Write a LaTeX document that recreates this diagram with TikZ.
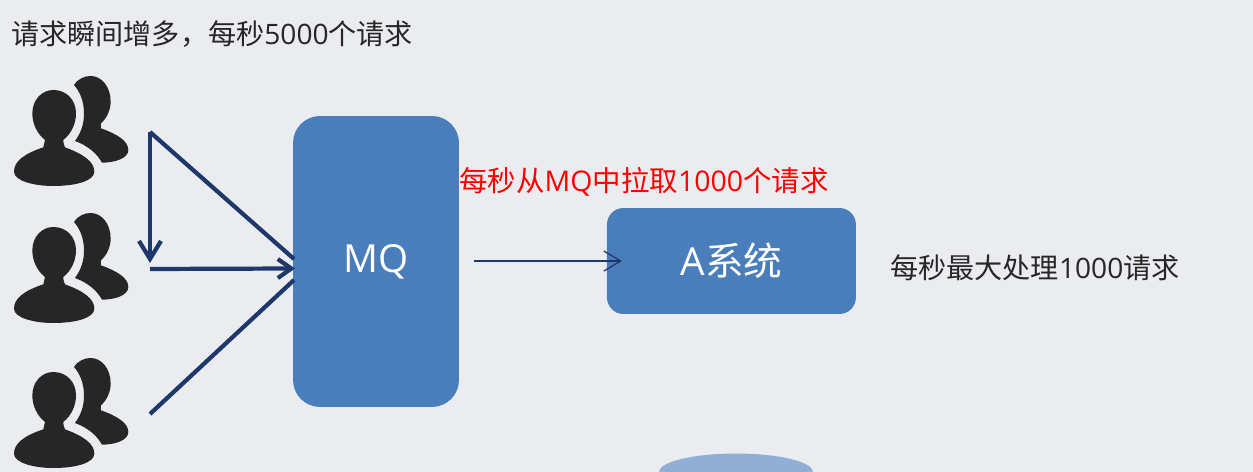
\documentclass[tikz,border=0pt]{standalone}
\usepackage{fontspec}
\setmainfont{Open Sans}
\newfontfamily\cjk{Noto Sans CJK SC}
\usetikzlibrary{arrows.meta}
\definecolor{cback}{RGB}{234,236,240}
\definecolor{cblue}{RGB}{74,126,187}
\definecolor{clight}{RGB}{145,175,213}
\definecolor{cline}{RGB}{31,56,107}
\definecolor{cicon}{RGB}{38,38,38}

\begin{document}
\begin{tikzpicture}[x=0.02cm,y=-0.02cm,>=Straight Barb,node distance=7.11cm,
  main node/.style={fill=cblue,text=white,font=\fontsize{22}{26}\selectfont,inner sep=0pt},
  note node/.style={anchor=west,inner sep=0pt,text=black!85,font=\fontsize{16}{20}\selectfont},
  thick line/.style={draw=cline,line width=2.4pt},
  thin line/.style={draw=cline,line width=0.7pt},
  pics/person/.style={code={
    \fill[cicon] (130,262) .. controls (70,282) and (42,305) .. (42,335)
      .. controls (42,362) and (100,378) .. (160,378)
      .. controls (230,378) and (283,362) .. (283,335)
      .. controls (283,305) and (250,282) .. (195,262)
      .. controls (190,250) and (190,245) .. (190,240)
      .. controls (215,220) and (228,190) .. (228,160)
      .. controls (228,120) and (200,90) .. (160,90)
      .. controls (125,90) and (97,120) .. (97,160)
      .. controls (97,190) and (110,220) .. (135,240) -- cycle;
    \fill[cicon] (222,75) .. controls (235,55) and (255,48) .. (272,48)
      .. controls (305,48) and (332,80) .. (332,125)
      .. controls (332,150) and (320,175) .. (303,190) -- (303,205)
      .. controls (350,222) and (385,242) .. (385,270)
      .. controls (385,295) and (345,308) .. (306,308)
      .. controls (290,280) and (265,258) .. (225,243)
      .. controls (245,215) and (252,190) .. (252,160)
      .. controls (252,125) and (240,95) .. (222,75) -- cycle;
  }}]
  \fill[cback] (0,0) rectangle (1253,472);
  \useasboundingbox (0,0) rectangle (1253,472);

  \node[note node] (title) at (11,34) {{\cjk 请求瞬间增多，每秒}5000{\cjk 个请求}};

  \coordinate (user1) at (0,60);
  \coordinate (user2) at (0,197);
  \coordinate (user3) at (0,342);
  \pic[x=0.00667cm,y=-0.00667cm] at (user1) {person};
  \pic[x=0.00667cm,y=-0.00667cm] at (user2) {person};
  \pic[x=0.00667cm,y=-0.00667cm] at (user3) {person};

  % cylinder top, cut by the page
  \fill[clight] (659,472) .. controls (659,461.8) and (693.5,453.5) .. (736,453.5)
    .. controls (778.5,453.5) and (813,461.8) .. (813,472) -- cycle;

  \node[main node,minimum width=3.32cm,minimum height=5.82cm,rounded corners=0.54cm] (mq) at (376,261.5) {\raisebox{-0.08cm}{MQ}};
  \node[main node,minimum width=4.98cm,minimum height=2.12cm,rounded corners=0.33cm,yshift=0.01cm] (sys) [right of=mq] {\raisebox{-0.02cm}{A{\cjk 系统}}};
  \node[note node,text=red,font=\fontsize{16.2}{20}\selectfont] (pull) at (459,182) {{\cjk 每秒从}MQ{\cjk 中拉取}1000{\cjk 个请求}};
  \node[note node] (limit) at (890,268) {{\cjk 每秒最大处理}1000{\cjk 请求}};

  \coordinate (top) at (150,132);
  \coordinate (mid) at (150,269);
  \coordinate (low) at (150,414);
  \coordinate (down) at (150,263);
  \coordinate (hit1) at (294,259);
  \coordinate (hit2) at (295,268.5);
  \coordinate (hit3) at (294,280);
  \coordinate (from) at (474,261);
  \coordinate (to) at (622,261);

  \path[thick line]
    (top) edge[->,>={Straight Barb[length=0.36cm,width=0.44cm]}] (down)
    (top) edge (hit1)
    (mid) edge[->,>={Straight Barb[length=0.27cm,width=0.38cm]}] (hit2)
    (low) edge (hit3);
  \path[thin line]
    (from) edge[->,>={Straight Barb[length=0.34cm,width=0.4cm]}] (to);
\end{tikzpicture}
\end{document}
